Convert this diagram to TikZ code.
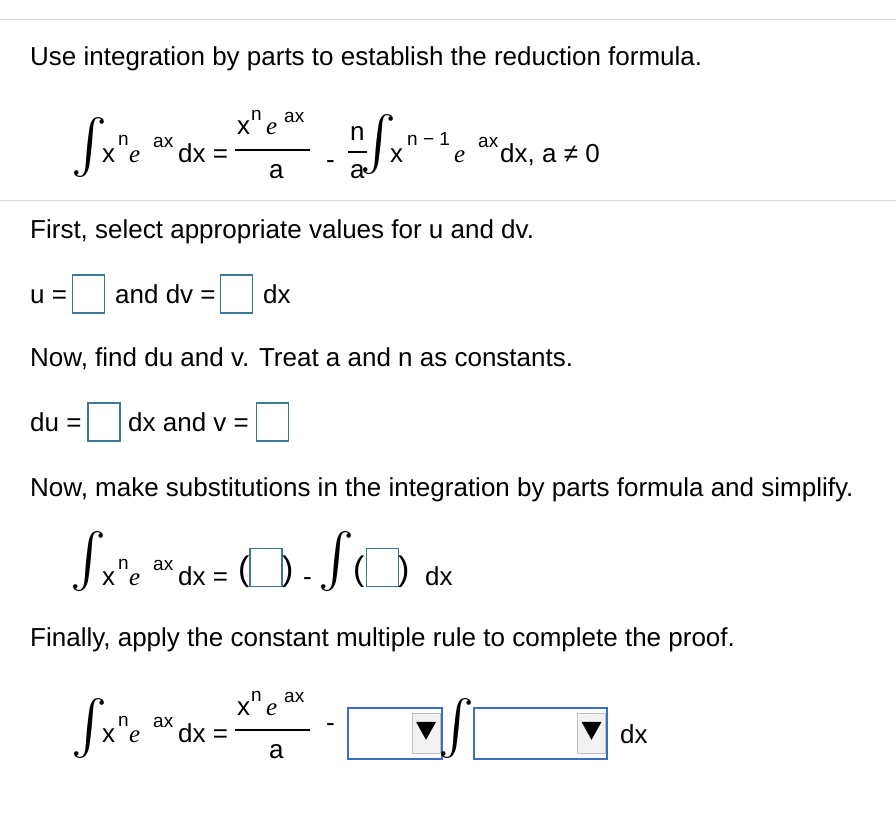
\documentclass[tikz,border=0pt]{standalone}
\usepackage{fontspec}
\usepackage{graphicx}
\setmainfont{Liberation Sans}
\newfontfamily\serifit{Liberation Serif}
\usetikzlibrary{positioning}
\definecolor{ansblue}{RGB}{60,120,150}
\definecolor{selblue}{RGB}{58,108,200}
\tikzset{
  txt/.style={anchor=base west, inner sep=0pt, font=\fontsize{26}{30}\selectfont},
  sup/.style={anchor=base west, inner sep=0pt, font=\fontsize{19}{22}\selectfont},
  ee/.style={anchor=base west, inner sep=0pt, font=\fontsize{25}{30}\serifit\itshape},
  intg/.style={inner sep=0pt},
  paren/.style={anchor=base west, inner sep=0pt, font=\fontsize{34}{40}\selectfont},
  bar/.style={line width=1.6pt},
  rule/.style={draw=black!15, line width=1pt},
  ansbox/.style={draw=ansblue, line width=1.2pt, fill=white, minimum width=32pt, minimum height=38pt, inner sep=0pt},
  selbox/.style={draw=selblue, line width=1.4pt, fill=white, inner sep=0pt, minimum height=51pt},
  btn/.style={draw=black!25, fill=black!5, inner sep=0pt, minimum width=28pt, minimum height=40pt}
}
\newcommand{\Int}{\resizebox*{!}{60pt}{$\int$}}
\newcommand{\eit}{e}
\begin{document}
\begin{tikzpicture}[x=1pt,y=-1pt]
	\useasboundingbox (0,0) rectangle (896,824);
	\draw [rule] (0,20) -- (896,20);
	\draw [rule] (0,200) -- (896,200);
	% reduction formula
	\node [txt] (intro) at (30,66) {Use integration by parts to establish the reduction formula.};
	\node [intg] (fi) at (90,148) {\Int};
	\node [txt] (fx) at (102,162) {x};
	\node [sup] (fn) at (118,146) {n};
	\node [ee] (fe) at (129,162) {\eit};
	\node [sup] (fax) at (153,147) {ax};
	\node [txt] (fdx) at (178,162) {dx =};
	\draw [bar] (235,150) -- (310,150);
	\node [txt] (nx) at (237,135) {x};
	\node [sup] (nn) at (251,121) {n};
	\node [ee] (ne) at (266,135) {\eit};
	\node [sup] (nax) at (284,122) {ax};
	\node [txt] (da) at (269,178) {a};
	\node [txt] (fmin) at (326,168) {-};
	\node [txt] (cn) at (350,140) {n};
	\draw [bar] (348,152) -- (367,152);
	\node [txt] (ca) at (350,178) {a};
	\node [intg] (fi2) at (378,145) {\Int};
	\node [txt] (gx) at (390,162) {x};
	\node [sup] (gn) at (407,146) {n − 1};
	\node [ee] (ge) at (454,162) {\eit};
	\node [sup] (gax) at (478,147) {ax};
	\node [txt] (gdx) at (500,162) {dx, a ≠ 0};
	% u and dv
	\node [txt] (first) at (30,238) {First, select appropriate values for u and dv.};
	\node [txt] (ulab) at (30,303) {u =};
	\node [ansbox] (ubox) at (88.5,294) {};
	\node [txt] (dvlab) at (115,303) {and dv =};
	\node [ansbox] (dvbox) at (236.5,294) {};
	\node [txt] (dxa) at (263,303) {dx};
	% du and v
	\node [txt] (second) at (30,366) {Now, find du and v. Treat a and n as constants.};
	\node [txt] (dulab) at (30,431) {du =};
	\node [ansbox] (dubox) at (104,422) {};
	\node [txt] (dxv) at (128,431) {dx and v =};
	\node [ansbox] (vbox) at (272.5,422) {};
	% substitution
	\node [txt] (third) at (30,496) {Now, make substitutions in the integration by parts formula and simplify.};
	\node [intg] (si) at (89,562) {\Int};
	\node [txt] (sx) at (102,585) {x};
	\node [sup] (sn) at (118,569) {n};
	\node [ee] (se) at (129,585) {\eit};
	\node [sup] (sax) at (153,570) {ax};
	\node [txt] (sdx) at (178,585) {dx =};
	\node [paren] (lp1) at (238,580) {(};
	\node [ansbox] (pbox) at (266,567.5) {};
	\node [paren] (rp1) at (282,580) {)};
	\node [txt] (smin) at (303,585) {-};
	\node [intg] (si2) at (336,562) {\Int};
	\node [paren] (lp2) at (353,580) {(};
	\node [ansbox] (qbox) at (382.5,567.5) {};
	\node [paren] (rp2) at (398,580) {)};
	\node [txt] (sdx2) at (425,585) {dx};
	% constant multiple
	\node [txt] (fourth) at (30,646) {Finally, apply the constant multiple rule to complete the proof.};
	\node [intg] (ti) at (90,728) {\Int};
	\node [txt] (tx) at (102,742) {x};
	\node [sup] (tn) at (118,726) {n};
	\node [ee] (te) at (129,742) {\eit};
	\node [sup] (tax) at (153,727) {ax};
	\node [txt] (tdx) at (178,742) {dx =};
	\draw [bar] (235,730) -- (310,730);
	\node [txt] (mx) at (237,715) {x};
	\node [sup] (mn) at (251,701) {n};
	\node [ee] (me) at (266,715) {\eit};
	\node [sup] (max) at (284,702) {ax};
	\node [txt] (ma) at (269,758) {a};
	\node [txt] (tmin) at (326,731) {-};
	\node [selbox, minimum width=94pt] (sela) at (395,733.5) {};
	\node [btn] (btna) at (426,733) {};
	\fill (btna.north) ++(-10,9) -- ++(20,0) -- ++(-10,18) -- cycle;
	\node [intg] (ti2) at (456,728) {\Int};
	\node [selbox, minimum width=133pt] (selb) at (540.5,733.5) {};
	\node [btn] (btnb) at (591.5,733) {};
	\fill (btnb.north) ++(-10,9) -- ++(20,0) -- ++(-10,18) -- cycle;
	\node [txt] (tdx2) at (620,743) {dx};
\end{tikzpicture}
\end{document}
